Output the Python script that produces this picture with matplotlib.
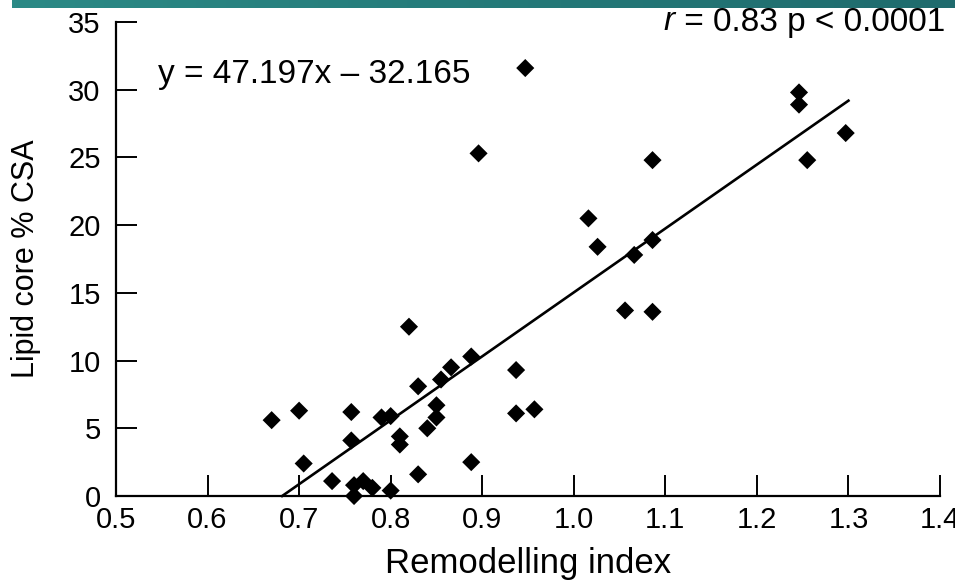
import matplotlib
matplotlib.use("Agg")
import matplotlib.pyplot as plt
import numpy as np
from matplotlib.colors import LinearSegmentedColormap

plt.rcParams['font.family'] = ['Liberation Sans', 'DejaVu Sans']

# Data
remodelling_index = [0.67, 0.70, 0.705, 0.736, 0.757, 0.757, 0.76, 0.76, 0.77, 0.78,
                     0.79, 0.80, 0.80, 0.81, 0.81, 0.82, 0.83, 0.83, 0.84, 0.85,
                     0.85, 0.855, 0.866, 0.888, 0.888, 0.896, 0.947, 0.937, 0.937, 0.957,
                     1.016, 1.026, 1.056, 1.066, 1.086, 1.086, 1.086, 1.246, 1.246, 1.255,
                     1.297]
lipid_core = [5.6, 6.3, 2.4, 1.1, 6.2, 4.1, 0.8, 0.0, 1.1, 0.6,
              5.8, 5.9, 0.4, 4.4, 3.8, 12.5, 8.1, 1.6, 5.0, 6.7,
              5.8, 8.6, 9.5, 10.3, 2.5, 25.3, 31.6, 9.3, 6.1, 6.4,
              20.5, 18.4, 13.7, 17.8, 24.8, 18.9, 13.6, 29.8, 28.9, 24.8,
              26.8]
slope = 47.197
intercept = -32.165
fit_x_range = [0.6815, 1.30]
x_ticks = [0.5, 0.6, 0.7, 0.8, 0.9, 1.0, 1.1, 1.2, 1.3, 1.4]
x_tick_labels = ['0.5', '0.6', '0.7', '0.8', '0.9', '1.0', '1.1', '1.2', '1.3', '1.4']
y_ticks = [0, 5, 10, 15, 20, 25, 30, 35]

W, H = 955, 581
fig = plt.figure(figsize=(W / 100, H / 100), dpi=100)
fig.patch.set_facecolor('white')

# teal banner at top
bar_ax = fig.add_axes([12 / W, 1 - 8 / H, 1 - 12 / W, 8 / H])
cmap = LinearSegmentedColormap.from_list('teal', ['#2b8a86', '#1f6b6d'])
bar_ax.imshow(np.linspace(0, 1, 256)[None, :], aspect='auto', cmap=cmap, extent=[0, 1, 0, 1])
bar_ax.axis('off')

left, right, bottom, top = 116, 940, 496, 22
ax = fig.add_axes([left / W, (H - bottom) / H, (right - left) / W, (bottom - top) / H])

ax.scatter(remodelling_index, lipid_core, marker='D', s=85, color='black',
           edgecolors='none', zorder=3, clip_on=False)
fx = np.array(fit_x_range)
ax.plot(fx, slope * fx + intercept, color='black', lw=1.9, zorder=2, clip_on=False)

ax.set_xlim(0.5, 1.4)
ax.set_ylim(0, 35)
ax.set_xticks(x_ticks)
ax.set_xticklabels(x_tick_labels)
ax.set_yticks(y_ticks)
for s in ['top', 'right']:
    ax.spines[s].set_visible(False)
for s in ['left', 'bottom']:
    ax.spines[s].set_linewidth(1.6)
ax.tick_params(axis='both', direction='in', length=15, width=1.4, labelsize=21)
ax.tick_params(axis='x', pad=7)
ax.tick_params(axis='y', pad=11)
ax.set_xlabel('Remodelling index', fontsize=25, va='center')
ax.xaxis.set_label_coords(0.5, -0.143)
ax.set_ylabel('Lipid core % CSA', fontsize=22, va='center')
ax.yaxis.set_label_coords(-0.109, 0.5)

ax.text(0.546, 31.1, 'y = 47.197x – 32.165', fontsize=24, ha='left', va='center')

t = fig.text(945 / W, 1 - 22 / H, ' = 0.83 p < 0.0001', fontsize=24, ha='right', va='center')
fig.canvas.draw()
bb = t.get_window_extent(renderer=fig.canvas.get_renderer())
fig.text(bb.x0 / W, 1 - 22 / H, 'r', fontsize=24, style='italic', ha='right', va='center')

fig.savefig('out.png', dpi=100)
